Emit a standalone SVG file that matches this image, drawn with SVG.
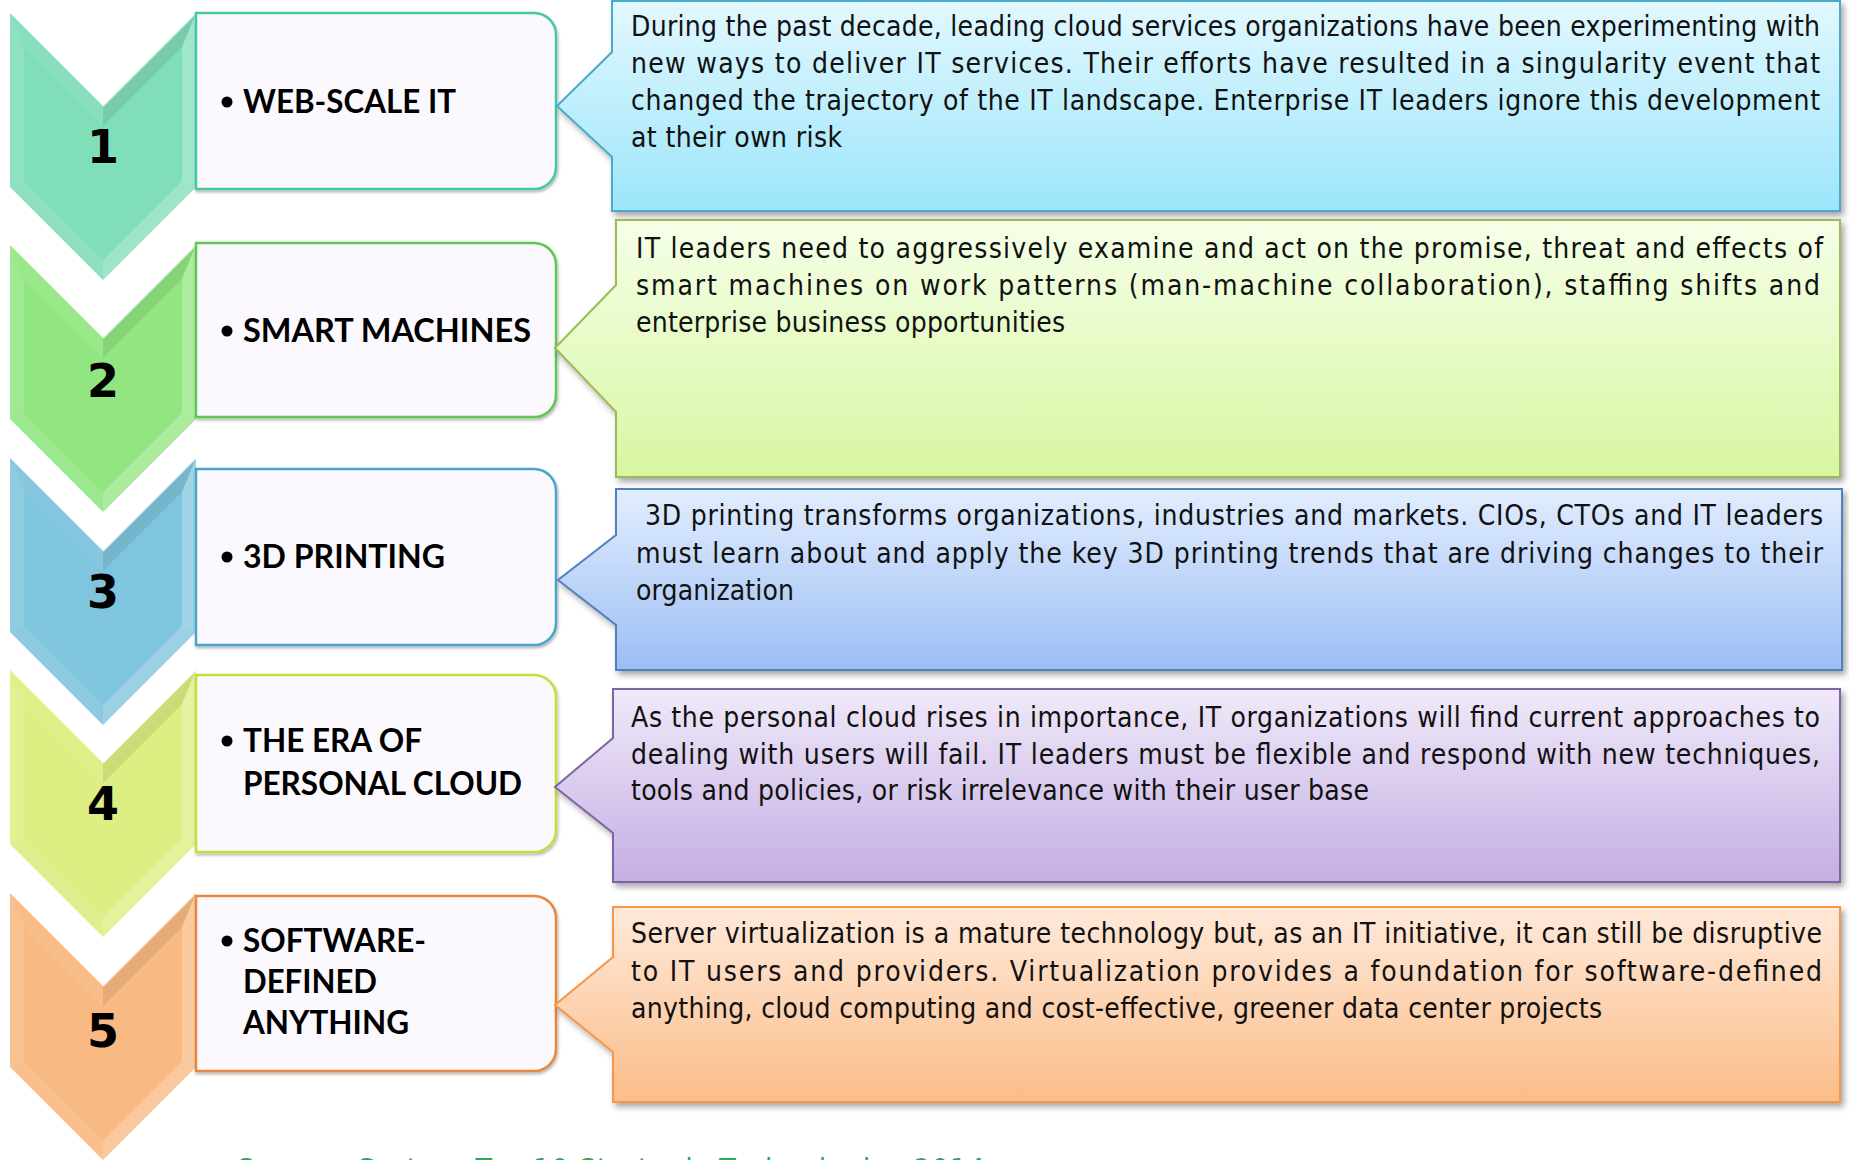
<svg xmlns="http://www.w3.org/2000/svg" xmlns:xlink="http://www.w3.org/1999/xlink" width="1849" height="1160" viewBox="0 0 1849 1160">
<defs>
<style>
.lbl{font-family:Lato,"Liberation Sans",sans-serif;font-weight:700;font-size:32px;fill:#000}
.num{font-family:"DejaVu Sans","Liberation Sans",sans-serif;font-weight:700;font-size:46px;fill:#000;text-anchor:middle}
.txt{font-family:"DejaVu Sans Condensed","DejaVu Sans",sans-serif;font-stretch:condensed;font-size:28px;fill:#111}
.box{fill:#FBF9FE;stroke-width:2.5}
.call{stroke-width:2}
.src{font-family:"DejaVu Sans Condensed","DejaVu Sans",sans-serif;font-stretch:condensed;font-size:30px;fill:#2FA65A}
</style>
<linearGradient id="g1" x1="0" y1="0" x2="0" y2="1"><stop offset="0" stop-color="#E2F8FE"/><stop offset="1" stop-color="#9CE5FB"/></linearGradient>
<linearGradient id="g2" x1="0" y1="0" x2="0" y2="1"><stop offset="0" stop-color="#F5FFE8"/><stop offset="1" stop-color="#D8F6A2"/></linearGradient>
<linearGradient id="g3" x1="0" y1="0" x2="0" y2="1"><stop offset="0" stop-color="#E2EDFE"/><stop offset="1" stop-color="#9CBEF4"/></linearGradient>
<linearGradient id="g4" x1="0" y1="0" x2="0" y2="1"><stop offset="0" stop-color="#F0E9F9"/><stop offset="1" stop-color="#C3AEE3"/></linearGradient>
<linearGradient id="g5" x1="0" y1="0" x2="0" y2="1"><stop offset="0" stop-color="#FFE9DA"/><stop offset="1" stop-color="#FBBD88"/></linearGradient>
<filter id="sh" x="-5%" y="-10%" width="112%" height="130%"><feDropShadow dx="3" dy="4" stdDeviation="3" flood-color="#000" flood-opacity=".35"/></filter>
<filter id="sh2" x="-5%" y="-10%" width="112%" height="130%"><feDropShadow dx="1" dy="2" stdDeviation="1.5" flood-color="#000" flood-opacity=".3"/></filter>
<g id="chev">
 <polygon points="10,0 103,93 196,0 196,174 103,267 10,174"/>
 <polygon points="10,0 24,34 24,168 10,174" fill="#fff" fill-opacity=".12"/>
 <polygon points="10,0 103,93 103,113 24,34" fill="#fff" fill-opacity=".06"/>
 <polygon points="103,93 196,0 182,34 103,113" fill="#000" fill-opacity=".08"/>
 <polygon points="196,0 196,174 182,168 182,34" fill="#fff" fill-opacity=".25"/>
 <polygon points="196,174 103,267 103,247 182,168" fill="#fff" fill-opacity=".22"/>
 <polygon points="103,267 10,174 24,168 103,247" fill="#fff" fill-opacity=".1"/>
 <polyline points="103,93 196,0" stroke="#fff" stroke-opacity=".55" stroke-width="2" fill="none"/>
</g>
</defs>

<rect width="1849" height="1160" fill="#fff"/>

<!-- chevrons -->
<g id="step-1"><use xlink:href="#chev" y="13" fill="#80DEB8"/><text class="num" x="103" y="163">1</text></g>
<g id="step-2"><use xlink:href="#chev" y="245" fill="#92E682"/><text class="num" x="103" y="397">2</text></g>
<g id="step-3"><use xlink:href="#chev" y="458" fill="#80C5DE"/><text class="num" x="103" y="608">3</text></g>
<g id="step-4"><use xlink:href="#chev" y="670" fill="#DDEE82"/><text class="num" x="103" y="820">4</text></g>
<g id="step-5"><use xlink:href="#chev" y="893" fill="#F8B982"/><text class="num" x="103" y="1047">5</text></g>

<!-- topic boxes -->
<g id="topic-1">
<path class="box" filter="url(#sh2)" stroke="#45C9A0" d="M196,13 H534 A22,22 0 0 1 556,35 V167 A22,22 0 0 1 534,189 H196 Z"/>
<circle cx="227" cy="102" r="5.5"/>
<text class="lbl" x="243" y="113" textLength="213" lengthAdjust="spacingAndGlyphs">WEB-SCALE IT</text>
</g>
<g id="topic-2">
<path class="box" filter="url(#sh2)" stroke="#5FC851" d="M196,243 H534 A22,22 0 0 1 556,265 V395 A22,22 0 0 1 534,417 H196 Z"/>
<circle cx="227" cy="331" r="5.5"/>
<text class="lbl" x="243" y="342" textLength="288" lengthAdjust="spacingAndGlyphs">SMART MACHINES</text>
</g>
<g id="topic-3">
<path class="box" filter="url(#sh2)" stroke="#4AA6CB" d="M196,469 H534 A22,22 0 0 1 556,491 V623 A22,22 0 0 1 534,645 H196 Z"/>
<circle cx="227" cy="557" r="5.5"/>
<text class="lbl" x="243" y="568" textLength="202" lengthAdjust="spacingAndGlyphs">3D PRINTING</text>
</g>
<g id="topic-4">
<path class="box" filter="url(#sh2)" stroke="#C6DE3A" d="M196,675 H534 A22,22 0 0 1 556,697 V830 A22,22 0 0 1 534,852 H196 Z"/>
<circle cx="227" cy="741" r="5.5"/>
<text class="lbl" x="243" y="752" textLength="179" lengthAdjust="spacingAndGlyphs">THE ERA OF</text>
<text class="lbl" x="243" y="795" textLength="279" lengthAdjust="spacingAndGlyphs">PERSONAL CLOUD</text>
</g>
<g id="topic-5">
<path class="box" filter="url(#sh2)" stroke="#E8873C" d="M196,896 H534 A22,22 0 0 1 556,918 V1049 A22,22 0 0 1 534,1071 H196 Z"/>
<circle cx="227" cy="941" r="5.5"/>
<text class="lbl" x="243" y="952" textLength="183" lengthAdjust="spacingAndGlyphs">SOFTWARE-</text>
<text class="lbl" x="243" y="993" textLength="134" lengthAdjust="spacingAndGlyphs">DEFINED</text>
<text class="lbl" x="243" y="1034" textLength="166" lengthAdjust="spacingAndGlyphs">ANYTHING</text>
</g>

<!-- description callouts -->
<g id="desc-1">
<path class="call" filter="url(#sh)" fill="url(#g1)" stroke="#4BAAC8" d="M612,1 H1840 V211 H612 V157 L557,106 L612,52 Z"/>
<text class="txt" x="631" y="36" textLength="1189" lengthAdjust="spacing">During the past decade, leading cloud services organizations have been experimenting with</text>
<text class="txt" x="631" y="73" textLength="1189" lengthAdjust="spacing">new ways to deliver IT services. Their efforts have resulted in a singularity event that</text>
<text class="txt" x="631" y="110" textLength="1189" lengthAdjust="spacing">changed the trajectory of the IT landscape. Enterprise IT leaders ignore this development</text>
<text class="txt" x="631" y="147" textLength="211" lengthAdjust="spacing">at their own risk</text>
</g>
<g id="desc-2">
<path class="call" filter="url(#sh)" fill="url(#g2)" stroke="#9BBB59" d="M616,220 H1840 V477 H616 V412 L555,348 L616,285 Z"/>
<text class="txt" x="636" y="258" textLength="1187" lengthAdjust="spacing">IT leaders need to aggressively examine and act on the promise, threat and effects of</text>
<text class="txt" x="636" y="295" textLength="1184" lengthAdjust="spacing">smart machines on work patterns (man-machine collaboration), staffing shifts and</text>
<text class="txt" x="636" y="332" textLength="429" lengthAdjust="spacing">enterprise business opportunities</text>
</g>
<g id="desc-3">
<path class="call" filter="url(#sh)" fill="url(#g3)" stroke="#4F81BD" d="M616,489 H1842 V670 H616 V625 L558,580 L616,535 Z"/>
<text class="txt" x="645" y="525" textLength="1178" lengthAdjust="spacing">3D printing transforms organizations, industries and markets. CIOs, CTOs and IT leaders</text>
<text class="txt" x="636" y="563" textLength="1187" lengthAdjust="spacing">must learn about and apply the key 3D printing trends that are driving changes to their</text>
<text class="txt" x="636" y="600" textLength="158" lengthAdjust="spacing">organization</text>
</g>
<g id="desc-4">
<path class="call" filter="url(#sh)" fill="url(#g4)" stroke="#8064A2" d="M613,689 H1840 V882 H613 V833 L555,787 L613,738 Z"/>
<text class="txt" x="631" y="727" textLength="1189" lengthAdjust="spacing">As the personal cloud rises in importance, IT organizations will find current approaches to</text>
<text class="txt" x="631" y="764" textLength="1189" lengthAdjust="spacing">dealing with users will fail. IT leaders must be flexible and respond with new techniques,</text>
<text class="txt" x="631" y="800" textLength="738" lengthAdjust="spacing">tools and policies, or risk irrelevance with their user base</text>
</g>
<g id="desc-5">
<path class="call" filter="url(#sh)" fill="url(#g5)" stroke="#F79646" d="M613,907 H1840 V1102 H613 V1052 L555,1005 L613,957 Z"/>
<text class="txt" x="631" y="943" textLength="1191" lengthAdjust="spacing">Server virtualization is a mature technology but, as an IT initiative, it can still be disruptive</text>
<text class="txt" x="631" y="981" textLength="1191" lengthAdjust="spacing">to IT users and providers. Virtualization provides a foundation for software-defined</text>
<text class="txt" x="631" y="1018" textLength="971" lengthAdjust="spacing">anything, cloud computing and cost-effective, greener data center projects</text>
</g>

<text class="src" x="237" y="1180" textLength="748" lengthAdjust="spacing">Source: Gartner Top 10 Strategic Technologies 2014</text>
</svg>
